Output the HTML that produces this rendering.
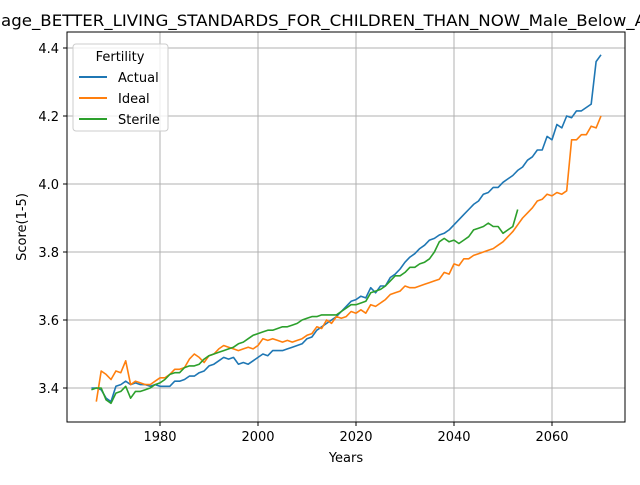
<!DOCTYPE html>
<html><head><meta charset="utf-8"><style>
body{margin:0;background:#fff}
svg{font-family:"DejaVu Sans","Liberation Sans",sans-serif}
</style></head><body>
<svg id="chart" width="640" height="480" xmlns="http://www.w3.org/2000/svg">
<text x="1" y="26" font-size="16" textLength="645" lengthAdjust="spacingAndGlyphs">age_BETTER_LIVING_STANDARDS_FOR_CHILDREN_THAN_NOW_Male_Below_A</text>
<g id="grid"></g>
<g id="series"></g>
<rect x="67" y="32" width="558" height="390" fill="none" stroke="#000" stroke-width="1"/>
<g id="ticks"></g>
<text x="346" y="462" font-size="13" text-anchor="middle">Years</text>
<text transform="translate(26,227) rotate(-90)" font-size="13" text-anchor="middle">Score(1-5)</text>
<g>
<rect x="73" y="44" width="95" height="87" rx="3" fill="#fff" fill-opacity="0.8" stroke="#ccc"/>
<text x="120" y="61" font-size="13" text-anchor="middle">Fertility</text>
<g><line x1="79" y1="77" x2="107" y2="77" stroke="#1f77b4" stroke-width="2"/><text x="118" y="82" font-size="13">Actual</text></g>
<g><line x1="79" y1="98" x2="107" y2="98" stroke="#ff7f0e" stroke-width="2"/><text x="118" y="103" font-size="13">Ideal</text></g>
<g><line x1="79" y1="119" x2="107" y2="119" stroke="#2ca02c" stroke-width="2"/><text x="118" y="124" font-size="13">Sterile</text></g>
</g>
</svg>
<script>
const actualStart = 1966;
const actualValues = [3.40,3.40,3.395,3.37,3.36,3.405,3.41,3.42,3.41,3.415,3.41,3.41,3.405,3.41,3.405,3.405,3.405,3.42,3.42,3.425,3.435,3.435,3.445,3.45,3.465,3.47,3.48,3.49,3.485,3.49,3.47,3.475,3.47,3.48,3.49,3.50,3.495,3.51,3.51,3.51,3.515,3.52,3.525,3.53,3.545,3.55,3.57,3.58,3.59,3.60,3.61,3.625,3.64,3.655,3.66,3.67,3.665,3.695,3.68,3.70,3.70,3.725,3.735,3.75,3.77,3.785,3.795,3.81,3.82,3.835,3.84,3.85,3.855,3.865,3.88,3.895,3.91,3.925,3.94,3.95,3.97,3.975,3.99,3.99,4.005,4.015,4.025,4.04,4.05,4.07,4.08,4.10,4.10,4.14,4.13,4.175,4.165,4.20,4.195,4.215,4.215,4.225,4.235,4.36,4.38];
const idealStart = 1967;
const idealValues = [3.36,3.45,3.44,3.425,3.45,3.445,3.48,3.41,3.42,3.415,3.41,3.41,3.42,3.43,3.43,3.44,3.455,3.455,3.46,3.485,3.50,3.49,3.475,3.495,3.50,3.515,3.525,3.52,3.515,3.51,3.515,3.52,3.515,3.525,3.545,3.54,3.545,3.54,3.535,3.54,3.535,3.54,3.545,3.555,3.56,3.58,3.575,3.60,3.59,3.61,3.605,3.61,3.625,3.62,3.63,3.62,3.645,3.64,3.65,3.66,3.675,3.68,3.685,3.70,3.695,3.695,3.70,3.705,3.71,3.715,3.72,3.74,3.735,3.765,3.76,3.78,3.78,3.79,3.795,3.80,3.805,3.81,3.82,3.83,3.845,3.86,3.88,3.90,3.915,3.93,3.95,3.955,3.97,3.965,3.975,3.97,3.98,4.13,4.13,4.145,4.145,4.17,4.165,4.20];
const sterileStart = 1966;
const sterileValues = [3.395,3.40,3.40,3.365,3.355,3.385,3.39,3.405,3.37,3.39,3.39,3.395,3.40,3.41,3.415,3.425,3.44,3.445,3.445,3.46,3.465,3.465,3.47,3.485,3.495,3.50,3.505,3.51,3.515,3.52,3.53,3.535,3.545,3.555,3.56,3.565,3.57,3.57,3.575,3.58,3.58,3.585,3.59,3.60,3.605,3.61,3.61,3.615,3.615,3.615,3.615,3.625,3.635,3.645,3.645,3.65,3.655,3.68,3.685,3.69,3.70,3.715,3.73,3.73,3.74,3.755,3.755,3.765,3.77,3.78,3.80,3.83,3.84,3.83,3.835,3.825,3.835,3.845,3.865,3.87,3.875,3.885,3.875,3.875,3.855,3.865,3.875,3.925];
const xTicks = [1980,2000,2020,2040,2060];
const yTicks = [3.4,3.6,3.8,4.0,4.2,4.4];

const NS = "http://www.w3.org/2000/svg";
function xs(yr){ return 160 + (yr - 1980) * 4.9; }
function ys(v){ return 388 - (v - 3.4) * 340; }
const grid = document.getElementById('grid');
const ticks = document.getElementById('ticks');
const series = document.getElementById('series');

xTicks.forEach(t => {
  const x = xs(t);
  const g = document.createElementNS(NS,'line');
  
  
  g.setAttribute('x1',x);g.setAttribute('x2',x);g.setAttribute('y1',32);g.setAttribute('y2',422);
  g.setAttribute('stroke','#b0b0b0');g.setAttribute('stroke-width','1');
  grid.appendChild(g);
  const tk = document.createElementNS(NS,'line');
  tk.setAttribute('x1',x);tk.setAttribute('x2',x);tk.setAttribute('y1',422);tk.setAttribute('y2',426);
  tk.setAttribute('stroke','#000');
  ticks.appendChild(tk);
  const tx = document.createElementNS(NS,'text');
  
  
  tx.setAttribute('x',x);tx.setAttribute('y',441);tx.setAttribute('font-size','13');tx.setAttribute('text-anchor','middle');
  tx.textContent = t;
  ticks.appendChild(tx);
});
yTicks.forEach(t => {
  const y = ys(t);
  const g = document.createElementNS(NS,'line');
  
  
  g.setAttribute('x1',67);g.setAttribute('x2',625);g.setAttribute('y1',y);g.setAttribute('y2',y);
  g.setAttribute('stroke','#b0b0b0');g.setAttribute('stroke-width','1');
  grid.appendChild(g);
  const tk = document.createElementNS(NS,'line');
  tk.setAttribute('x1',63);tk.setAttribute('x2',67);tk.setAttribute('y1',y);tk.setAttribute('y2',y);
  tk.setAttribute('stroke','#000');
  ticks.appendChild(tk);
  const tx = document.createElementNS(NS,'text');
  
  
  tx.setAttribute('x',59);tx.setAttribute('y',y+5);tx.setAttribute('font-size','13');tx.setAttribute('text-anchor','end');
  tx.textContent = t.toFixed(1);
  ticks.appendChild(tx);
});
function draw(start, vals, color, name){
  const pts = vals.map((v,i) => xs(start+i).toFixed(2)+','+ys(v).toFixed(2)).join(' ');
  const p = document.createElementNS(NS,'polyline');
  
  
  p.setAttribute('points',pts);p.setAttribute('fill','none');p.setAttribute('stroke',color);
  p.setAttribute('stroke-width','1.6');p.setAttribute('stroke-linejoin','round');
  series.appendChild(p);
}
draw(actualStart, actualValues, '#1f77b4', 'actual-line');
draw(idealStart, idealValues, '#ff7f0e', 'ideal-line');
draw(sterileStart, sterileValues, '#2ca02c', 'sterile-line');
</script>
</body></html>
